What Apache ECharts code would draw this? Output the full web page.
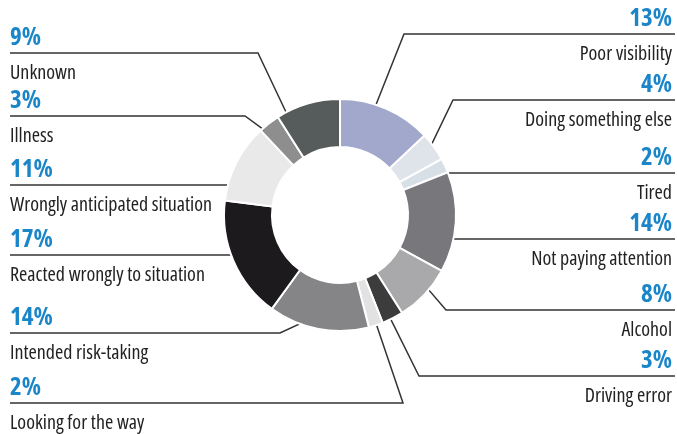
<!DOCTYPE html>
<html>
<head>
<meta charset="utf-8">
<script src="https://cdn.jsdelivr.net/npm/echarts@6/dist/echarts.min.js"></script>
<style>
  html, body { margin: 0; padding: 0; background: #fff; }
  #chart { width: 677px; height: 434px; }
</style>
</head>
<body>
<div id="chart"></div>
<script>
// Causes of accidents, share in percent (clockwise from 12 o'clock)
const categories = [
  'Poor visibility',
  'Doing something else',
  'Tired',
  'Not paying attention',
  'Alcohol',
  'Driving error',
  'Looking for the way',
  'Intended risk-taking',
  'Reacted wrongly to situation',
  'Wrongly anticipated situation',
  'Illness',
  'Unknown'
];
const shares = [13, 4, 2, 14, 8, 3, 2, 14, 17, 11, 3, 9];
const sliceColors = [
  '#a1a8cc', '#dfe3ea', '#d6e0e6', '#77777c', '#a9a9ab', '#3c3c3c',
  '#e2e2e2', '#858587', '#1c1a1c', '#e9e9e9', '#8e8e8e', '#565b5b'
];

// Label placement: side, y of the rule under the percentage,
// x of the bend (null = straight rule), where along the slice the leader starts
const labelSpots = [
  { side: 'right', lineY: 34,  bendX: 404,  along: 0.38 },
  { side: 'right', lineY: 100, bendX: 453,  along: 0.53 },
  { side: 'right', lineY: 173, bendX: null },
  { side: 'right', lineY: 239, bendX: null },
  { side: 'right', lineY: 310, bendX: 446,  along: 0.37 },
  { side: 'right', lineY: 376, bendX: 419,  along: 0.6 },
  { side: 'left',  lineY: 403, bendX: 403,  along: 0.45 },
  { side: 'left',  lineY: 333, bendX: 280,  along: 0.6 },
  { side: 'left',  lineY: 255, bendX: null },
  { side: 'left',  lineY: 185, bendX: null },
  { side: 'left',  lineY: 116, bendX: 245,  along: 0.2 },
  { side: 'left',  lineY: 53,  bendX: 258,  along: 0.14 }
];

const CX = 340, CY = 215, R_IN = 68, R_OUT = 116, R_LEADER = 108;
const TEXT_LEFT = 10, TEXT_RIGHT = 672, RULE_RIGHT = 675;

const total = shares.reduce((a, b) => a + b, 0);
const startShare = [];
shares.reduce((acc, v, i) => { startShare[i] = acc; return acc + v; }, 0);

function leaderStart(i) {
  const spot = labelSpots[i];
  if (spot.bendX == null) {
    const dy = spot.lineY - CY;
    const dx = Math.sqrt(Math.max(R_LEADER * R_LEADER - dy * dy, 0));
    return [spot.side === 'right' ? CX + dx : CX - dx, spot.lineY];
  }
  const frac = (startShare[i] + shares[i] * spot.along) / total;
  const a = frac * Math.PI * 2;
  return [CX + R_LEADER * Math.sin(a), CY - R_LEADER * Math.cos(a)];
}

const chart = echarts.init(document.getElementById('chart'), null, { renderer: 'canvas' });

chart.setOption({
  animation: false,
  backgroundColor: '#ffffff',
  series: [{
    type: 'pie',
    center: [CX, CY],
    radius: [R_IN, R_OUT],
    startAngle: 90,
    clockwise: true,
    avoidLabelOverlap: false,
    emphasis: { disabled: true },
    itemStyle: { borderColor: '#ffffff', borderWidth: 2 },
    data: categories.map((name, i) => ({
      name: name,
      value: shares[i],
      itemStyle: { color: sliceColors[i] }
    })),
    label: {
      show: true,
      position: 'outside',
      overflow: 'none',
      formatter: p => '{p|' + p.value + '%}\n{n|' + p.name + '}',
      rich: {
        p: {
          fontFamily: '"Open Sans", "Liberation Sans", sans-serif',
          fontWeight: 'bold semi-condensed',
          fontSize: 25,
          lineHeight: 38,
          color: '#1a85c8'
        },
        n: {
          fontFamily: '"Open Sans", "Roboto", sans-serif',
          fontWeight: 'condensed',
          fontSize: 20,
          lineHeight: 34,
          color: '#222222'
        }
      }
    },
    labelLine: {
      show: true,
      smooth: false,
      lineStyle: { color: '#333333', width: 1.5 }
    },
    labelLayout: function (params) {
      const i = params.dataIndex;
      const spot = labelSpots[i];
      const right = spot.side === 'right';
      const start = leaderStart(i);
      const endX = right ? RULE_RIGHT : TEXT_LEFT;
      const bend = spot.bendX == null
        ? [(start[0] + endX) / 2, spot.lineY]
        : [spot.bendX, spot.lineY];
      return {
        x: right ? TEXT_RIGHT : TEXT_LEFT,
        y: spot.lineY - 34.5,
        align: right ? 'right' : 'left',
        verticalAlign: 'top',
        labelLinePoints: [start, bend, [endX, spot.lineY]]
      };
    }
  }]
});
</script>
</body>
</html>
